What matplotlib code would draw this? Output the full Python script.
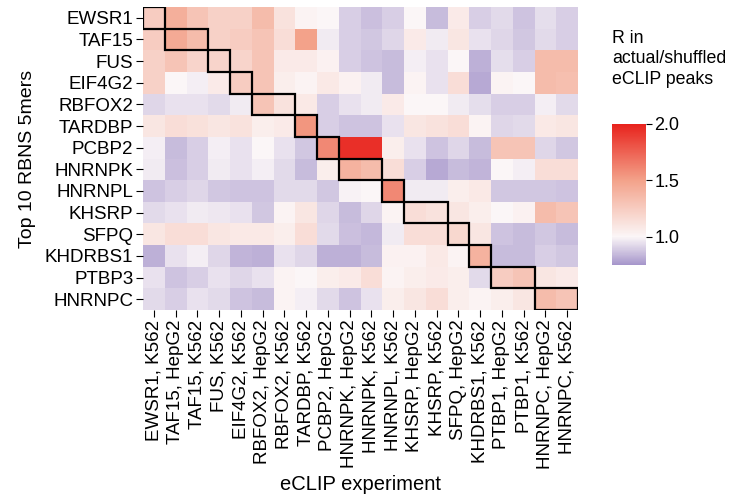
import numpy as np
import matplotlib.pyplot as plt
from matplotlib.colors import LinearSegmentedColormap, Normalize
from matplotlib.patches import Rectangle

plt.rcParams['font.family'] = ['Liberation Sans', 'DejaVu Sans']

# RBNS top-5mer sets (rows) vs eCLIP experiments (columns)
rbns = ['EWSR1', 'TAF15', 'FUS', 'EIF4G2', 'RBFOX2', 'TARDBP', 'PCBP2',
        'HNRNPK', 'HNRNPL', 'KHSRP', 'SFPQ', 'KHDRBS1', 'PTBP3', 'HNRNPC']
eclip = ['EWSR1, K562', 'TAF15, HepG2', 'TAF15, K562', 'FUS, K562',
         'EIF4G2, K562', 'RBFOX2, HepG2', 'RBFOX2, K562', 'TARDBP, K562',
         'PCBP2, HepG2', 'HNRNPK, HepG2', 'HNRNPK, K562', 'HNRNPL, K562',
         'KHSRP, HepG2', 'KHSRP, K562', 'SFPQ, HepG2', 'KHDRBS1, K562',
         'PTBP1, HepG2', 'PTBP1, K562', 'HNRNPC, HepG2', 'HNRNPC, K562']

# enrichment R in actual vs shuffled peaks
R = [
    [1.25, 1.42, 1.30, 1.22, 1.22, 1.35, 1.12, 1.02, 1.00, 0.90, 0.86, 0.90, 1.00, 0.85, 1.07, 0.90, 0.93, 0.87, 0.94, 0.90],
    [1.25, 1.45, 1.35, 1.22, 1.25, 1.30, 1.15, 1.50, 0.97, 0.90, 0.88, 0.92, 1.07, 0.97, 1.10, 0.95, 0.92, 0.88, 0.93, 0.90],
    [1.22, 1.30, 1.20, 1.20, 1.20, 1.30, 1.07, 1.07, 1.03, 0.90, 0.87, 0.85, 0.98, 0.95, 1.00, 0.82, 0.94, 0.90, 1.35, 1.35],
    [1.22, 1.00, 0.98, 1.07, 1.25, 1.30, 1.05, 1.02, 1.08, 1.03, 0.97, 0.85, 1.02, 0.95, 1.15, 0.80, 1.02, 1.00, 1.35, 1.33],
    [0.92, 0.95, 0.95, 0.93, 0.97, 1.30, 1.12, 1.08, 0.90, 0.95, 0.97, 1.07, 1.00, 1.00, 0.97, 0.94, 0.90, 0.90, 0.98, 0.93],
    [1.10, 1.15, 1.13, 1.10, 1.12, 1.05, 1.07, 1.55, 0.90, 0.87, 0.87, 0.95, 1.10, 1.12, 1.15, 1.02, 0.92, 0.93, 1.08, 1.10],
    [0.98, 0.85, 0.90, 0.98, 0.95, 1.00, 0.95, 0.88, 1.60, 1.95, 1.95, 1.05, 0.95, 0.87, 0.92, 0.85, 1.30, 1.30, 0.92, 0.88],
    [0.97, 0.86, 0.90, 0.97, 0.95, 0.98, 0.93, 0.85, 1.05, 1.40, 1.35, 1.15, 0.90, 0.80, 0.85, 0.83, 1.00, 0.98, 1.15, 1.15],
    [0.87, 0.90, 0.92, 0.88, 0.87, 0.87, 0.93, 0.93, 0.88, 0.99, 1.00, 1.60, 0.97, 0.97, 1.05, 1.08, 0.88, 0.88, 0.88, 0.87],
    [0.93, 0.95, 0.97, 0.96, 0.95, 0.88, 1.02, 1.10, 0.92, 0.85, 0.92, 1.02, 1.15, 1.12, 1.10, 1.05, 1.00, 1.03, 1.35, 1.30],
    [1.10, 1.15, 1.15, 1.10, 1.08, 1.08, 1.05, 1.15, 0.93, 0.86, 0.84, 0.97, 1.15, 1.15, 1.18, 1.10, 0.87, 0.85, 0.88, 0.85],
    [0.82, 0.95, 0.98, 0.92, 0.83, 0.82, 0.95, 0.92, 0.82, 0.82, 0.85, 1.03, 1.03, 1.08, 1.02, 1.40, 0.85, 0.85, 0.90, 0.88],
    [0.95, 0.87, 0.90, 0.95, 0.92, 0.95, 1.02, 1.00, 1.05, 1.07, 1.15, 1.02, 1.05, 1.07, 1.05, 0.93, 1.25, 1.30, 1.10, 1.07],
    [0.93, 0.90, 0.95, 0.93, 0.87, 0.85, 1.02, 0.98, 0.93, 0.87, 0.95, 1.05, 1.10, 1.15, 1.05, 1.02, 1.05, 1.10, 1.35, 1.30],
]

# matching eCLIP columns for each RBNS row (first, last)
matches = [(0, 0), (1, 2), (3, 3), (4, 4), (5, 6), (7, 7), (8, 8),
           (9, 10), (11, 11), (12, 13), (14, 14), (15, 15), (16, 17), (18, 19)]

vmin, vmax = 0.75, 2.0
cmap = LinearSegmentedColormap.from_list(
    'purple_red',
    [(0.0, '#a696cb'), (0.2, '#fbf6f7'), (0.6, '#f3a28a'), (1.0, '#e8231d')])

fig = plt.figure(figsize=(7.36, 4.99), dpi=100)
ax = fig.add_axes([143 / 736, 1 - 310 / 499, 435 / 736, 303 / 499])

data = np.array(R)
mesh = ax.pcolormesh(data, cmap=cmap, norm=Normalize(vmin, vmax))
ax.set_xlim(0, len(eclip))
ax.set_ylim(len(rbns), 0)

for r, (c0, c1) in enumerate(matches):
    ax.add_patch(Rectangle((c0, r), c1 - c0 + 1, 1, fill=False,
                           edgecolor='black', linewidth=1.6, zorder=3))

ax.set_xticks(np.arange(len(eclip)) + 0.5)
ax.set_xticklabels(eclip, rotation=90, fontsize=13.5)
ax.set_yticks(np.arange(len(rbns)) + 0.5)
ax.set_yticklabels(rbns, fontsize=13.5)
ax.tick_params(length=5, width=0.8, pad=2)
for s in ax.spines.values():
    s.set_visible(False)
ax.set_xlabel('eCLIP experiment', fontsize=14.5, labelpad=4)
ax.set_ylabel('Top 10 RBNS 5mers', fontsize=14, labelpad=6)

cax = fig.add_axes([612 / 736, 1 - 265 / 499, 34 / 736, 141 / 499])
cb = fig.colorbar(mesh, cax=cax, ticks=[1.0, 1.5, 2.0])
cb.outline.set_visible(False)
cb.ax.tick_params(labelsize=13, length=4, width=0.8, pad=2)
cb.ax.set_yticklabels(['1.0', '1.5', '2.0'])
fig.text(612 / 736, 1 - 30 / 499, 'R in\nactual/shuffled\neCLIP peaks',
         fontsize=12.8, ha='left', va='top', linespacing=1.25)

fig.savefig('out.png', dpi=100)
